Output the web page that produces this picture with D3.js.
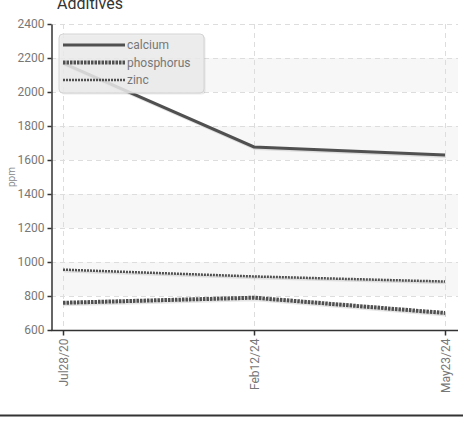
<!DOCTYPE html>
<html>
<head>
<meta charset="utf-8">
<script src="https://cdn.jsdelivr.net/npm/d3@7"></script>
<style>
  body { margin: 0; background: #fff; }
  text { font-family: Roboto, "Liberation Sans", sans-serif; }
</style>
</head>
<body>
<svg id="chart" width="466" height="423"></svg>
<script>
// ***** Chart data *****
const dates = ["Jul28/20", "Feb12/24", "May23/24"];
const calcium = [2170, 1677, 1630];
const phosphorus = [760, 790, 700];
const zinc = [955, 915, 885];
const yTicks = [600, 800, 1000, 1200, 1400, 1600, 1800, 2000, 2200, 2400];

const series = [
  { name: "calcium", values: calcium, width: 3, dash: null },
  { name: "phosphorus", values: phosphorus, width: 4, dash: "2.5,1" },
  { name: "zinc", values: zinc, width: 2.5, dash: "2,1" }
];

const svg = d3.select("#chart");
const plotLeft = 51, plotRight = 458, plotTop = 24, plotBottom = 330;

const x = d3.scalePoint().domain(dates).range([63, 445]);
const y = d3.scaleLinear().domain([600, 2400]).range([plotBottom, plotTop]);

// ***** Alternating bands *****
svg.selectAll(".band")
  .data([[2000, 2200], [1600, 1800], [1200, 1400], [800, 1000]])
  .enter()
  .append("rect")
  .attr("x", plotLeft)
  .attr("width", plotRight - plotLeft)
  .attr("y", d => y(d[1]))
  .attr("height", d => y(d[0]) - y(d[1]))
  .style("fill", "#f7f7f7");

// ***** Grid lines *****
svg.selectAll(".hgrid")
  .data(yTicks)
  .enter()
  .append("line")
  .attr("x1", plotLeft)
  .attr("x2", plotRight)
  .attr("y1", d => y(d) + 0.5)
  .attr("y2", d => y(d) + 0.5)
  .style("stroke", "#ddd")
  .style("stroke-dasharray", "5,4");

svg.selectAll(".vgrid")
  .data(dates)
  .enter()
  .append("line")
  .attr("x1", d => x(d) + 0.5)
  .attr("x2", d => x(d) + 0.5)
  .attr("y1", plotTop)
  .attr("y2", plotBottom)
  .style("stroke", "#ddd")
  .style("stroke-dasharray", "5,4");

// ***** Lines *****
const line = d3.line()
  .x((d, i) => x(dates[i]))
  .y(d => y(d));

series.forEach(s => {
  // soft shadow under each line
  svg.append("path")
    .attr("d", line(s.values))
    .attr("transform", "translate(1,1.5)")
    .style("fill", "none")
    .style("stroke", "#000")
    .style("stroke-opacity", 0.1)
    .style("stroke-width", s.width);

  svg.append("path")
    .attr("d", line(s.values))
    .style("fill", "none")
    .style("stroke", "#505050")
    .style("stroke-width", s.width)
    .style("stroke-dasharray", s.dash);
});

// ***** Axes *****
const yAxis = svg.append("g")
  .attr("transform", "translate(" + (plotLeft + 0.5) + ",0)")
  .call(d3.axisLeft(y).tickValues(yTicks).tickFormat(d3.format("d"))
    .tickSize(4).tickSizeOuter(0).tickPadding(3));

const xAxis = svg.append("g")
  .attr("transform", "translate(0," + (plotBottom + 0.5) + ")")
  .call(d3.axisBottom(x).tickSize(5).tickSizeOuter(0));

[yAxis, xAxis].forEach(a => {
  a.select(".domain").style("stroke", "#333").style("stroke-width", 1.5);
  a.selectAll(".tick line").style("stroke", "#333").style("stroke-width", 1.5);
  a.selectAll("text").style("fill", "#777").style("font-size", "12px");
});
xAxis.select(".domain").attr("d", "M" + plotLeft + ",0H" + plotRight);

xAxis.selectAll(".tick text")
  .attr("transform", "rotate(-90)")
  .attr("text-anchor", "end")
  .attr("x", -8)
  .attr("y", 0)
  .attr("dy", "0.35em");

// ***** Labels *****
svg.append("text")
  .attr("x", 57)
  .attr("y", 9)
  .style("font-size", "16px")
  .style("fill", "#333")
  .text("Additives");

svg.append("text")
  .attr("transform", "translate(15,177) rotate(-90)")
  .attr("text-anchor", "middle")
  .style("font-size", "10px")
  .style("fill", "#888")
  .text("ppm");

// ***** Legend *****
const legend = svg.append("g").attr("transform", "translate(59,34)");
legend.append("rect")
  .attr("x", 1.5).attr("y", 1.5)
  .attr("width", 145).attr("height", 59)
  .attr("rx", 4)
  .style("fill", "#000").style("opacity", 0.08);
legend.append("rect")
  .attr("width", 145).attr("height", 59)
  .attr("rx", 4)
  .style("fill", "rgba(236,236,236,0.85)")
  .style("stroke", "#d4d4d4");

const items = legend.selectAll(".item")
  .data(series)
  .enter()
  .append("g")
  .attr("transform", (d, i) => "translate(0," + (11 + i * 17.5) + ")");

items.append("line")
  .attr("x1", 4).attr("x2", 66)
  .style("stroke", "#505050")
  .style("stroke-width", d => d.width)
  .style("stroke-dasharray", d => d.dash);

items.append("text")
  .attr("x", 68)
  .attr("dy", "0.35em")
  .style("font-size", "12px")
  .style("fill", "#777")
  .text(d => d.name);

// ***** Bottom rule *****
svg.append("line")
  .attr("x1", 0).attr("x2", 463)
  .attr("y1", 415.5).attr("y2", 415.5)
  .style("stroke", "#333")
  .style("stroke-width", 2);
</script>
</body>
</html>
